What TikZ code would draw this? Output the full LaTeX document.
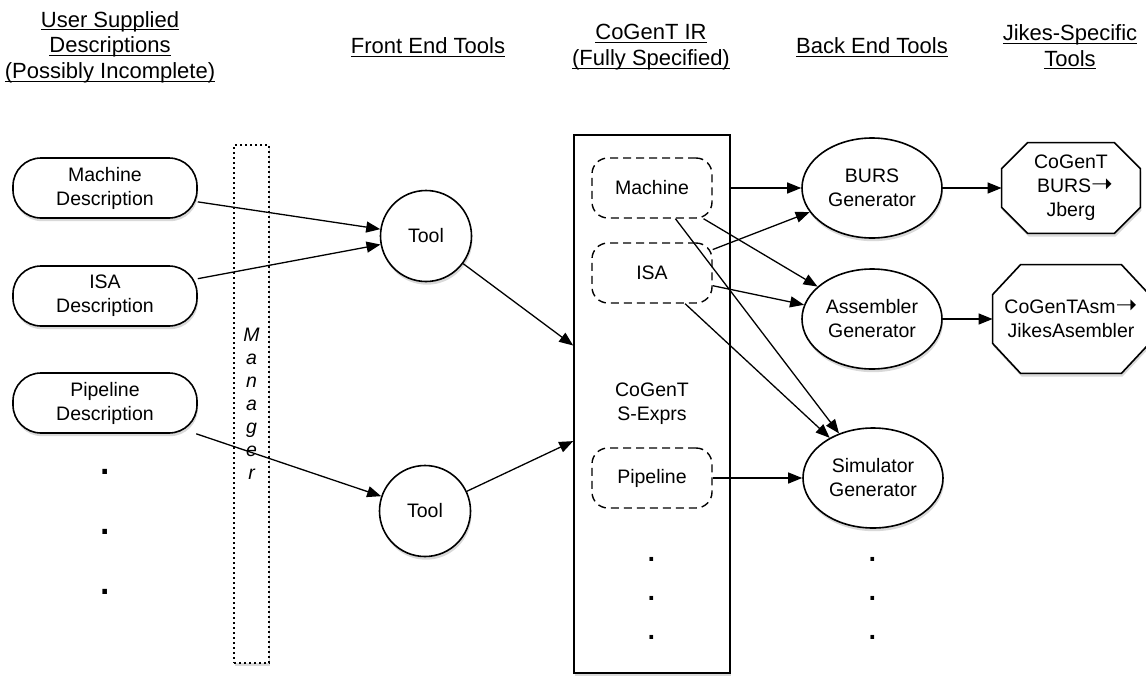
\documentclass[tikz,border=0pt]{standalone}
\usepackage{fontspec}
\setmainfont{Liberation Sans}
\newfontfamily\arrowfont{DejaVu Sans}
\usetikzlibrary{arrows.meta,shapes.geometric,shadows,backgrounds}

\newcommand{\headul}[1]{\sbox0{#1}\rlap{\rule[-1.7pt]{\wd0}{0.5pt}}\usebox0}
\newcommand{\drawoctagon}[3]{%
  \draw[octaline] ([xshift=#2]#1.north west) -- ([xshift=-#2]#1.north east)
    -- ([yshift=-#3]#1.north east) -- ([yshift=#3]#1.south east)
    -- ([xshift=-#2]#1.south east) -- ([xshift=#2]#1.south west)
    -- ([yshift=#3]#1.south west) -- ([yshift=-#3]#1.north west) -- cycle;}

\begin{document}
\begin{tikzpicture}[x=0.5pt,y=-0.5pt,
    >={Triangle[length=7pt,width=5.5pt]},
    softshadow/.style={drop shadow={opacity=0.3,shadow xshift=0.5pt,shadow yshift=-1.6pt}},
    txt/.style={font=\fontsize{9.75}{12}\selectfont,align=center},
    heading/.style={font=\fontsize{11}{12.8}\selectfont,align=center},
    descbox/.style={txt,draw,line width=0.8pt,fill=white,rounded corners=14pt,
      minimum width=92pt,minimum height=30pt,softshadow},
    toolnode/.style={txt,circle,draw,line width=0.8pt,fill=white,minimum size=45.5pt,
      inner sep=0pt,softshadow},
    mgrbox/.style={draw,line width=0.8pt,dash pattern=on 0.9pt off 1.6pt,fill=white,
      minimum width=17.5pt,minimum height=259pt,inner sep=0pt,align=center,
      font=\fontsize{9.75}{11.5}\selectfont\itshape,softshadow},
    irbox/.style={txt,draw,line width=0.8pt,fill=white,minimum width=78pt,
      minimum height=269pt,softshadow},
    specbox/.style={txt,draw,line width=0.7pt,dash pattern=on 4pt off 2.5pt,
      rounded corners=8pt,minimum width=60pt,minimum height=30pt},
    gennode/.style={txt,ellipse,draw,line width=0.8pt,fill=white,minimum width=70pt,
      minimum height=50pt,inner sep=0pt,softshadow},
    octatext/.style={txt,inner sep=0pt,minimum width=69pt,minimum height=45pt},
    octaline/.style={draw,line width=0.8pt,fill=white,softshadow},
    bigdots/.style={align=center,inner sep=0pt,font=\fontsize{24}{30}\selectfont},
    meddots/.style={align=center,inner sep=0pt,font=\fontsize{19}{19.5}\selectfont},
    arrline/.style={->,line width=0.65pt}]
    \useasboundingbox (0,0) rectangle (1146,675);

    % column headings
    \node[heading] (husers) at (110,47) {\headul{User Supplied}\\\headul{Descriptions}\\\headul{(Possibly Incomplete)}};
    \node[heading] (hfront) at (428,47) {\headul{Front End Tools}};
    \node[heading] (hir) at (651,47) {\headul{CoGenT IR}\\\headul{(Fully Specified)}};
    \node[heading] (hback) at (872,47) {\headul{Back End Tools}};
    \node[heading] (hjikes) at (1070,47) {\headul{Jikes-Specific}\\\headul{Tools}};

    % user descriptions
    \node[descbox] (mdesc) at (105,188) {Machine\\Description};
    \node[descbox] (idesc) at (105,296) {ISA\\Description};
    \node[descbox] (pdesc) at (105,403) {Pipeline\\Description};
    \node[bigdots] (ldots) at (105,532) {.\\.\\.};

    % manager
    \node[mgrbox] (mgr) at (251.5,404) {M\\a\\n\\a\\g\\e\\r};

    % front end tools
    \node[toolnode] (tool1) at (426,236) {Tool};
    \node[toolnode] (tool2) at (425,511) {Tool};

    % IR
    \node[irbox] (ir) at (652,404) {CoGenT\\S-Exprs};
    \node[specbox] (machine) at (652,188) {Machine};
    \node[specbox] (isa) at (652,273) {ISA};
    \node[specbox] (pipeline) at (652,478) {Pipeline};
    \node[meddots] (irdots) at (652,598) {.\\.\\.};

    % back end tools
    \node[gennode] (burs) at (872,188) {BURS\\Generator};
    \node[gennode] (asmgen) at (872,319) {Assembler\\Generator};
    \node[gennode] (simgen) at (873,478) {Simulator\\Generator};
    \node[meddots] (simdots) at (873,598) {.\\.\\.};

    % jikes tools
    \node[octatext] (jberg) at (1071,188) {CoGenT\\\hspace*{4pt}BURS{\arrowfont\fontsize{13}{12}\selectfont ➝}\\Jberg};
    \node[octatext,minimum width=78pt,minimum height=54pt] (jasm) at (1071,319) {CoGenTAsm{\arrowfont\fontsize{13}{12}\selectfont ➝}\\JikesAsembler};
    \begin{scope}[on background layer]
      \drawoctagon{jberg}{13pt}{13pt}
      \drawoctagon{jasm}{14pt}{15pt}
    \end{scope}

    % connectors
    \draw[arrline] (mdesc) -- (tool1);
    \draw[arrline] (idesc) -- (tool1);
    \draw[arrline] (pdesc) -- (tool2);
    \draw[arrline] (tool1) -- (ir);
    \draw[arrline] (tool2) -- (ir);
    \draw[arrline] (ir.east |- machine) -- (burs);
    \draw[arrline] (machine) -- (asmgen);
    \draw[arrline] (machine) -- (simgen);
    \draw[arrline] (isa) -- (burs);
    \draw[arrline] (isa) -- (asmgen);
    \draw[arrline] (isa) -- (simgen);
    \draw[arrline] (pipeline) -- (simgen);
    \draw[arrline] (burs) -- (jberg);
    \draw[arrline] (asmgen) -- (jasm);
\end{tikzpicture}
\end{document}
